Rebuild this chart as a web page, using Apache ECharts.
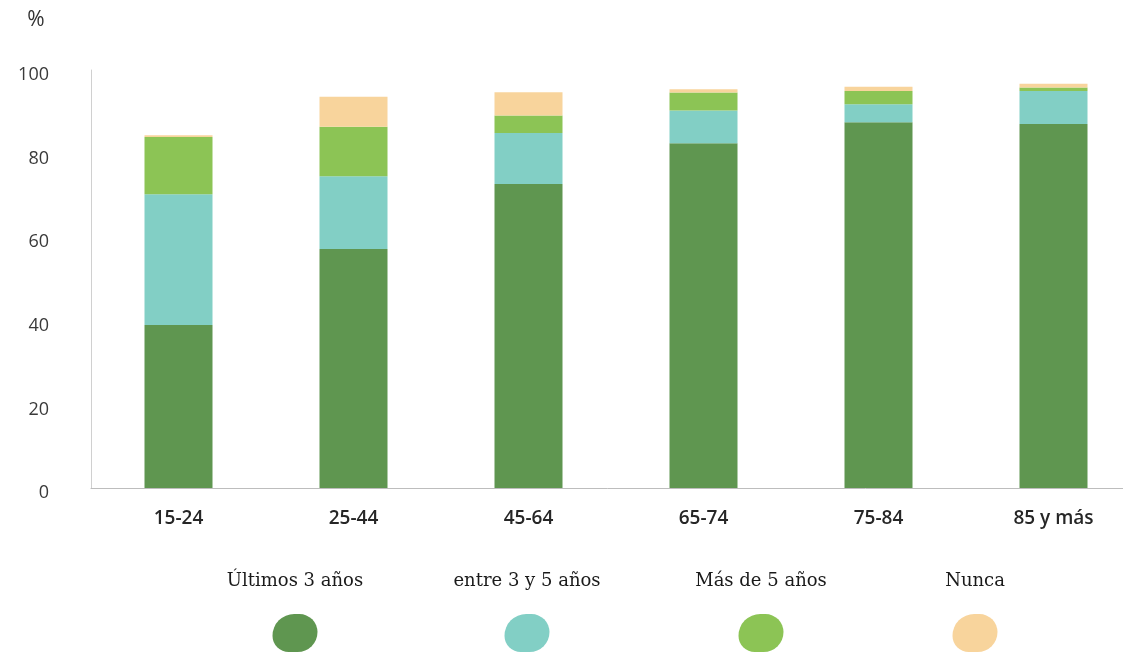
<!DOCTYPE html>
<html>
<head>
<meta charset="utf-8">
<script src="https://cdn.jsdelivr.net/npm/echarts@6/dist/echarts.min.js"></script>
<style>
  html, body { margin: 0; padding: 0; background: #ffffff; }
  #chart { width: 1123px; height: 654px; }
</style>
</head>
<body>
<div id="chart"></div>
<script>
// Age groups and share of people by time since last visit (%)
const categories = ['15-24', '25-44', '45-64', '65-74', '75-84', '85 y más'];
const seriesNames = ['Últimos 3 años', 'entre 3 y 5 años', 'Más de 5 años', 'Nunca'];
const ultimos3 = [39.0, 57.2, 72.7, 82.5, 87.5, 87.1];
const entre3y5 = [31.3, 17.4, 12.2, 7.8, 4.3, 7.9];
const masDe5 = [13.7, 11.8, 4.2, 4.3, 3.2, 0.8];
const nunca = [0.4, 7.2, 5.6, 0.8, 1.0, 0.9];
const yTicks = [0, 20, 40, 60, 80, 100];

const colors = ['#5f9650', '#82cfc5', '#8cc455', '#f8d49c'];
const values = [ultimos3, entre3y5, masDe5, nunca];
const legendCenters = [290, 522, 756, 970];

const chart = echarts.init(document.getElementById('chart'), null, { renderer: 'canvas' });

const series = seriesNames.map((name, i) => ({
  name: name,
  type: 'bar',
  stack: 'total',
  barWidth: 68,
  data: values[i],
  itemStyle: { color: colors[i] }
}));

// One legend per entry: name on top, a round swatch underneath
const legends = seriesNames.map((name, i) => ({
  data: [{
    name: name,
    textStyle: {
      rich: {
        t: { fontFamily: 'DejaVu Serif', fontSize: 18, color: '#1a1a1a', align: 'center', width: 200, height: 22, lineHeight: 22 },
        gap: { width: 200, height: 22, lineHeight: 22 },
        b: { backgroundColor: colors[i], width: 45, height: 38, borderRadius: [24, 20, 22, 18], align: 'center' }
      }
    }
  }],
  left: legendCenters[i] - 100,
  top: 570,
  icon: 'none',
  itemWidth: 0,
  itemHeight: 0,
  itemGap: 0,
  padding: 0,
  selectedMode: false,
  formatter: n => '{t|' + n + '}\n{gap|}\n{b|}'
}));

chart.setOption({
  animation: false,
  backgroundColor: '#ffffff',
  grid: { left: 91, top: 70, width: 1050, height: 418, outerBoundsMode: 'none', containLabel: false },
  legend: legends,
  xAxis: {
    type: 'category',
    data: categories,
    axisLine: { lineStyle: { color: '#bdbdbd', width: 1 } },
    axisTick: { show: false },
    axisLabel: { color: '#262626', fontFamily: 'Open Sans', fontSize: 19, fontWeight: 600, margin: 21 }
  },
  yAxis: {
    type: 'value',
    min: 0,
    max: 100,
    interval: 20,
    name: '%',
    nameLocation: 'end',
    nameGap: 50,
    nameTextStyle: {
      color: '#333', fontFamily: 'Open Sans', fontSize: 21,
      align: 'center', verticalAlign: 'middle', padding: [0, 110, 0, 0]
    },
    axisLine: { show: true, lineStyle: { color: '#d0d0d0', width: 1 } },
    axisTick: { show: false },
    splitLine: { show: false },
    axisLabel: {
      color: '#3a3a3a', margin: 42,
      formatter: v => (yTicks.includes(v) ? '{n|' + v + '}' : ''),
      rich: {
        n: { fontFamily: 'Open Sans', fontSize: 18, color: '#3a3a3a', padding: [10, 0, 0, 0] }
      }
    }
  },
  series: series
});
</script>
</body>
</html>
